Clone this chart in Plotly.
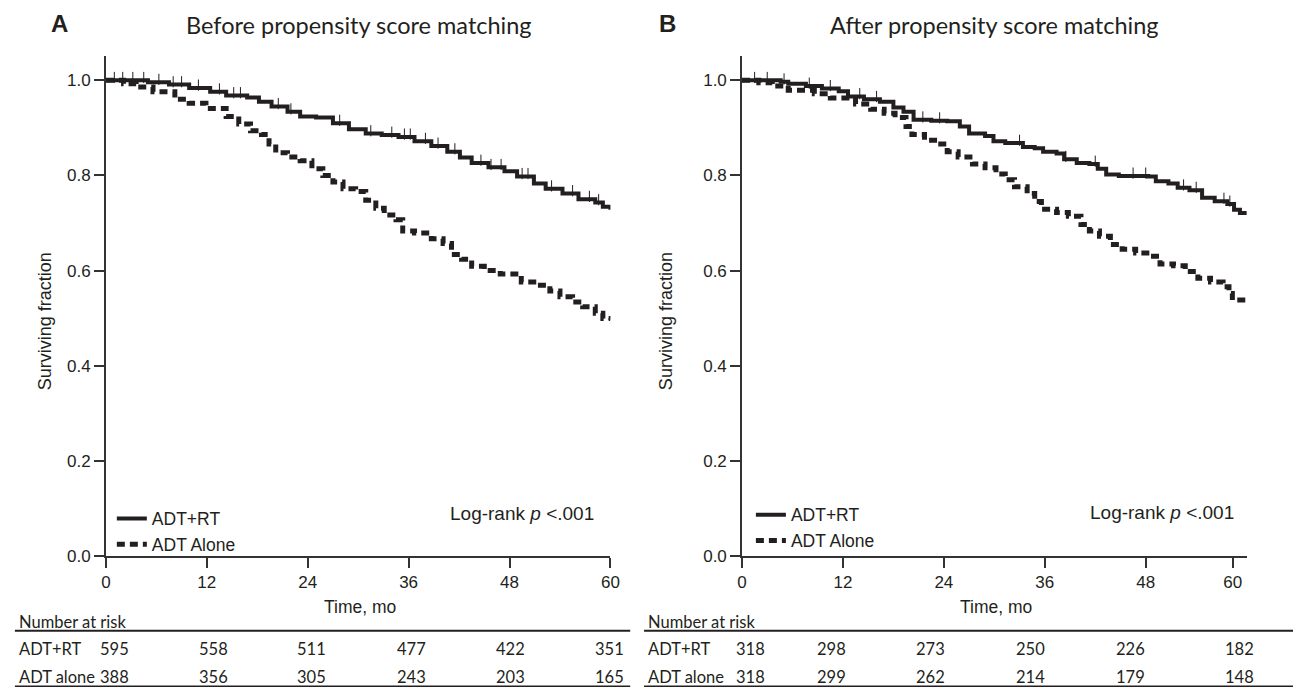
import numpy as np
import plotly.graph_objects as go

W, H = 1302, 697

# ---------------- data ----------------
# Panel A: before propensity score matching
a_rt_t = [0, 5.0, 7.5, 9.9, 12.4, 14.3, 16.8, 18.2, 19.7, 21.6, 23.1, 25.0, 27.0, 28.9, 30.9, 32.8,
          34.8, 36.7, 38.7, 40.6, 42.1, 43.5, 45.5, 47.4, 48.9, 50.9, 52.3, 54.3, 56.2, 58.2, 59.1, 60.0]
a_rt_s = [1.0, 0.996, 0.991, 0.984, 0.976, 0.968, 0.964, 0.955, 0.945, 0.934, 0.924, 0.922, 0.910,
          0.897, 0.888, 0.885, 0.881, 0.872, 0.862, 0.850, 0.838, 0.826, 0.817, 0.809, 0.798, 0.783,
          0.772, 0.762, 0.750, 0.743, 0.734, 0.728]
a_al_t = [0, 2.1, 3.6, 5.6, 8.2, 9.9, 11.9, 14.3, 15.8, 17.2, 18.5, 19.4, 20.2, 21.6, 23.1, 24.5,
          25.8, 27.0, 28.2, 29.7, 30.9, 32.1, 33.1, 34.5, 35.3, 36.7, 38.7, 40.1, 41.1, 42.3, 43.5,
          45.0, 46.9, 49.4, 51.3, 52.8, 54.0, 55.5, 56.7, 58.2, 59.1, 60.0]
a_al_s = [1.0, 0.993, 0.986, 0.976, 0.960, 0.952, 0.941, 0.924, 0.908, 0.894, 0.886, 0.866, 0.848,
          0.839, 0.831, 0.814, 0.800, 0.786, 0.772, 0.766, 0.748, 0.731, 0.717, 0.707, 0.683, 0.679,
          0.667, 0.657, 0.634, 0.624, 0.609, 0.600, 0.593, 0.576, 0.569, 0.557, 0.545, 0.534, 0.524,
          0.510, 0.499, 0.497]
a_rt_cens = [1.0, 2.0, 3.2, 4.5, 6.3, 8.0, 9.0, 11.0, 13.5, 15.2, 16.0, 20.5, 22.0, 27.8, 31.5,
             34.0, 35.5, 36.2, 38.0, 39.5, 41.5, 44.6, 45.8, 47.0, 49.5, 50.2, 53.0, 55.5, 57.5, 58.6]

# Panel B: after propensity score matching
b_rt_t = [0, 4.6, 5.5, 7.6, 9.5, 11.5, 12.6, 14.5, 16.4, 18.0, 19.2, 20.4, 22.5, 24.4, 25.9, 27.0,
          28.9, 29.9, 31.3, 33.4, 34.8, 35.8, 37.4, 38.3, 39.8, 41.3, 42.3, 43.3, 44.8, 48.3, 49.2,
          50.7, 51.8, 53.2, 54.7, 56.2, 57.7, 58.5, 59.2, 60.0]
b_rt_s = [1.0, 0.997, 0.993, 0.988, 0.983, 0.977, 0.966, 0.960, 0.955, 0.943, 0.934, 0.917, 0.915,
          0.914, 0.903, 0.888, 0.883, 0.872, 0.868, 0.860, 0.857, 0.850, 0.846, 0.834, 0.826, 0.824,
          0.814, 0.802, 0.799, 0.798, 0.788, 0.783, 0.774, 0.769, 0.753, 0.746, 0.740, 0.728, 0.721,
          0.721]
b_al_t = [0, 2.0, 3.6, 5.5, 8.6, 10.5, 13.5, 15.3, 16.9, 18.2, 19.5, 20.2, 21.7, 23.2, 24.4, 25.7,
          27.4, 28.9, 30.2, 31.3, 32.4, 33.9, 34.8, 35.6, 37.4, 38.8, 40.3, 41.3, 42.5, 43.8, 45.2,
          46.8, 48.5, 49.7, 51.3, 52.7, 54.2, 55.7, 57.2, 57.9, 58.3, 60.0]
b_al_s = [1.0, 0.995, 0.988, 0.979, 0.972, 0.963, 0.950, 0.939, 0.931, 0.922, 0.903, 0.886, 0.874,
          0.866, 0.850, 0.839, 0.824, 0.816, 0.803, 0.791, 0.776, 0.762, 0.745, 0.729, 0.722, 0.714,
          0.697, 0.683, 0.672, 0.655, 0.645, 0.637, 0.630, 0.614, 0.610, 0.598, 0.584, 0.576, 0.566,
          0.552, 0.538, 0.538]
b_rt_cens = [1.5, 3.0, 5.0, 8.0, 10.5, 14.0, 16.0, 21.5, 23.5, 33.0, 38.5, 42.0, 46.5, 48.0,
             52.5, 54.0, 57.3, 58.0]

x_tick_vals_a = [0, 12, 24, 36, 48, 60]
x_tick_vals_b = [0, 12, 24, 36, 48, 58.35]
x_tick_text = ["0", "12", "24", "36", "48", "60"]
y_tick_vals = [0.0, 0.2, 0.4, 0.6, 0.8, 1.0]

series_names = ["ADT+RT", "ADT Alone"]
panel_letters = ["A", "B"]
panel_titles = ["Before propensity score matching", "After propensity score matching"]
risk_row_labels = ["ADT+RT", "ADT alone"]
risk_a_rt = [595, 558, 511, 477, 422, 351]
risk_a_al = [388, 356, 305, 243, 203, 165]
risk_b_rt = [318, 298, 273, 250, 226, 182]
risk_b_al = [318, 299, 262, 214, 179, 148]

# ---------------- layout helpers (pixel -> paper) ----------------
def px(x):
    return x / W

def py(y):
    return 1 - y / H

INK = "#231f20"
ARIAL = "Liberation Sans, Arial, sans-serif"
CAL = "Lato, Calibri, sans-serif"

fig = go.Figure()

def step_at(ts, ss, q):
    ts = np.asarray(ts); ss = np.asarray(ss)
    idx = np.searchsorted(ts, q, side="right") - 1
    return ss[idx]

CENS_LIFT = 0.006  # censor ticks sit on top of the solid line

panels = [
    dict(xa="x", ya="y", rt=(a_rt_t, a_rt_s), al=(a_al_t, a_al_s), cens=a_rt_cens, legend="legend"),
    dict(xa="x2", ya="y2", rt=(b_rt_t, b_rt_s), al=(b_al_t, b_al_s), cens=b_rt_cens, legend="legend2"),
]
for p in panels:
    fig.add_trace(go.Scatter(x=p["rt"][0], y=p["rt"][1], mode="lines", line_shape="hv",
                             line=dict(color=INK, width=4), name=series_names[0],
                             xaxis=p["xa"], yaxis=p["ya"], legend=p["legend"]))
    fig.add_trace(go.Scatter(x=p["al"][0], y=p["al"][1], mode="lines", line_shape="hv",
                             line=dict(color=INK, width=5, dash="8px,5px"), name=series_names[1],
                             xaxis=p["xa"], yaxis=p["ya"], legend=p["legend"]))
    cy = step_at(p["rt"][0], p["rt"][1], p["cens"]) + CENS_LIFT
    fig.add_trace(go.Scatter(x=p["cens"], y=cy, mode="markers",
                             marker=dict(symbol="line-ns", size=8, line=dict(color=INK, width=1)),
                             showlegend=False, xaxis=p["xa"], yaxis=p["ya"], hoverinfo="skip"))

y_dom = [py(564), py(57)]
axis_common = dict(showgrid=False, zeroline=False, showline=True, linecolor="#333", linewidth=1.5,
                   ticks="outside", ticklen=10, tickwidth=1.5, tickcolor="#333",
                   tickfont=dict(family=ARIAL, size=17, color=INK))

fig.update_layout(
    width=W, height=H, margin=dict(l=0, r=0, t=0, b=0),
    paper_bgcolor="white", plot_bgcolor="white",
    xaxis=dict(domain=[px(102), px(612)], range=[0, 60], tickvals=x_tick_vals_a,
               ticktext=x_tick_text, anchor="y", **axis_common),
    yaxis=dict(domain=y_dom, range=[0, 1.0508], tickvals=y_tick_vals, tickformat=".1f",
               anchor="x", **axis_common),
    xaxis2=dict(domain=[px(745), px(1256)], range=[0, 60.1], tickvals=x_tick_vals_b,
                ticktext=x_tick_text, anchor="y2", **axis_common),
    yaxis2=dict(domain=y_dom, range=[0, 1.0508], tickvals=y_tick_vals, tickformat=".1f",
                anchor="x2", **axis_common),
    legend=dict(x=px(108), y=py(508), xanchor="left", yanchor="top", bgcolor="rgba(0,0,0,0)",
                font=dict(family=ARIAL, size=17.5, color=INK), tracegroupgap=0),
    legend2=dict(x=px(754), y=py(504), xanchor="left", yanchor="top", bgcolor="rgba(0,0,0,0)",
                 font=dict(family=ARIAL, size=17.5, color=INK), tracegroupgap=0),
    showlegend=True,
)

ann = []
def text(x, y, s, font, size, xanchor="center", bold=False, angle=0, color=INK):
    ann.append(dict(x=px(x), y=py(y), xref="paper", yref="paper", text=(f"<b>{s}</b>" if bold else s),
                    showarrow=False, xanchor=xanchor, yanchor="middle", textangle=angle,
                    font=dict(family=font, size=size, color=color)))

# panel letters and titles
text(55, 24, panel_letters[0], ARIAL, 24, bold=True)
text(669.5, 24, panel_letters[1], ARIAL, 24, bold=True)
text(357.6, 25, panel_titles[0], CAL, 23.5)
text(1000, 25, panel_titles[1], CAL, 23.5)
# axis titles
text(40.3, 326, "Surviving fraction", ARIAL, 18, angle=-90)
text(669, 326, "Surviving fraction", ARIAL, 18, angle=-90)
text(359, 616, "Time, mo", ARIAL, 17.5)
text(1001.5, 616, "Time, mo", ARIAL, 17.5)
# log-rank
text(522.5, 521, "Log-rank <i>p</i> &lt;.001", ARIAL, 19)
text(1169.5, 520, "Log-rank <i>p</i> &lt;.001", ARIAL, 19)

# number at risk tables
risk_x_a = [111, 210.5, 310, 410.5, 511, 611]
risk_x_b = [754, 835, 935.5, 1037, 1137.5, 1248]
for left, xs, rows in [(11.7, risk_x_a, (risk_a_rt, risk_a_al)), (647.7, risk_x_b, (risk_b_rt, risk_b_al))]:
    text(left, 631, "Number at risk", CAL, 16.5, xanchor="left")
    for lab, vals, yy in zip(risk_row_labels, rows, [658, 687]):
        text(left, yy, lab, CAL, 16.5, xanchor="left")
        for xv, v in zip(xs, vals):
            text(xv, yy, str(v), CAL, 16.5)

fig.update_layout(annotations=ann)

shapes = []
for x0, x1 in [(10, 632), (646, 1302)]:
    shapes.append(dict(type="line", xref="paper", yref="paper", x0=px(x0), x1=px(x1),
                       y0=py(640), y1=py(640), line=dict(color=INK, width=2)))
    shapes.append(dict(type="line", xref="paper", yref="paper", x0=px(x0), x1=px(x1),
                       y0=py(696.3), y1=py(696.3), line=dict(color=INK, width=1.5)))
fig.update_layout(shapes=shapes)

# remove the default page margin so the 1302x697 figure fills the window exactly
fig.write_html("out.html", config={"displayModeBar": False},
               post_script="document.body.style.margin='0';document.body.style.overflow='hidden';")
